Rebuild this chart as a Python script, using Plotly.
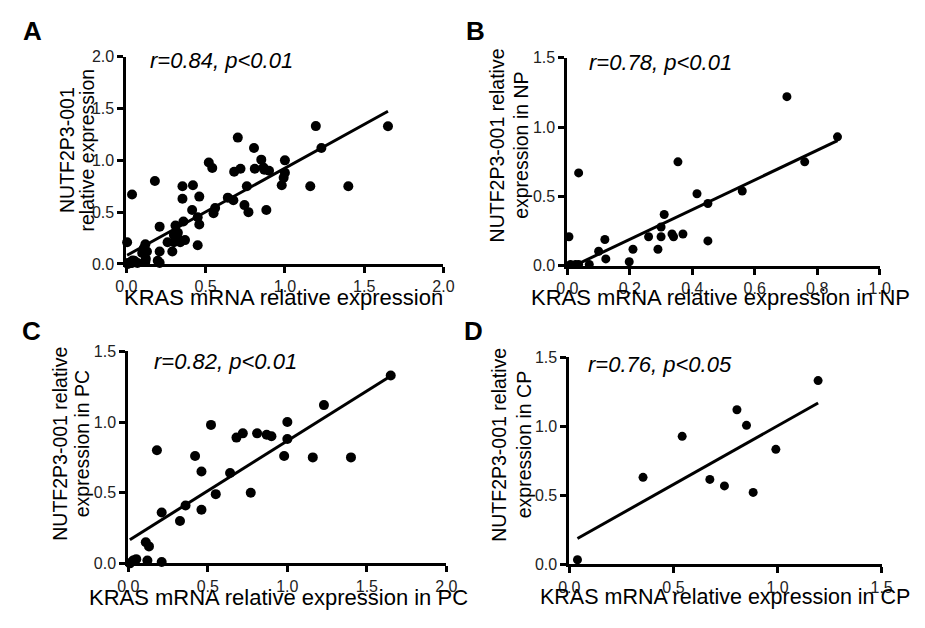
import plotly.graph_objects as go

# ---------------- data ----------------
# Panel B (NP)
np_x = [0.005, 0.01, 0.026, 0.036, 0.036, 0.07, 0.10, 0.12, 0.123, 0.198, 0.21, 0.26, 0.29, 0.30,
        0.30, 0.31, 0.335, 0.34, 0.354, 0.37, 0.415, 0.45, 0.45, 0.56, 0.703, 0.76, 0.865]
np_y = [0.21, 0.01, 0.01, 0.67, 0.01, 0.01, 0.105, 0.19, 0.05, 0.03, 0.12, 0.21, 0.12, 0.21,
        0.28, 0.37, 0.23, 0.21, 0.75, 0.23, 0.52, 0.45, 0.18, 0.54, 1.22, 0.75, 0.93]
# Panel C (PC)
pc_x = [0.01, 0.03, 0.05, 0.11, 0.13, 0.12, 0.18, 0.21, 0.21, 0.325, 0.36, 0.42, 0.46, 0.46, 0.52,
        0.55, 0.64, 0.68, 0.72, 0.77, 0.81, 0.87, 0.90, 0.98, 1.0, 1.0, 1.16, 1.23, 1.40, 1.65]
pc_y = [0.0, 0.02, 0.03, 0.15, 0.12, 0.02, 0.80, 0.36, 0.01, 0.30, 0.41, 0.76, 0.65, 0.38, 0.98,
        0.49, 0.64, 0.89, 0.92, 0.50, 0.92, 0.91, 0.90, 0.76, 1.0, 0.88, 0.75, 1.12, 0.75, 1.33]
# Panel D (CP)
cp_x = [0.039, 0.354, 0.542, 0.675, 0.745, 0.805, 0.851, 0.883, 0.992, 1.195]
cp_y = [0.033, 0.63, 0.927, 0.615, 0.568, 1.12, 1.007, 0.521, 0.833, 1.331]
# Panel A (all samples)
all_x = np_x + pc_x + cp_x
all_y = np_y + pc_y + cp_y

# regression lines: (intercept, slope)
fit_all = (0.08, 0.845)
fit_np = (-0.0225, 1.07)
fit_pc = (0.16, 0.707)
fit_cp = (0.154, 0.849)

stats = ["r=0.84, p<0.01", "r=0.78, p<0.01", "r=0.82, p<0.01", "r=0.76, p<0.05"]
letters = ["A", "B", "C", "D"]
x_titles = ["KRAS mRNA relative expression", "KRAS mRNA relative expression in NP",
            "KRAS mRNA relative expression in PC", "KRAS mRNA relative expression in CP"]
y_titles = [["NUTF2P3-001", "relative expression"],
            ["NUTF2P3-001 relative", "expression in NP"],
            ["NUTF2P3-001 relative", "expression in PC"],
            ["NUTF2P3-001 relative", "expression in CP"]]

# The page body keeps the browser's default 8px margin, so the figure is sized
# to fill the 925x628 window exactly inside it; positions below are window pixels.
OFF = 8
W, H = 925 - 2 * OFF, 628 - 2 * OFF
FONT = "Liberation Sans, Arial, Helvetica, sans-serif"

panels = [
    dict(x=all_x, y=all_y, fit=fit_all, xr=[0, 2], yr=[0, 2], xd=0.5, yd=0.5, ms=10,
         px=(118, 443), py=(50, 263), stat_xy=(216, 54), let_xy=(22, 23),
         xt_xy=(279, 298), xt_size=22, yt_x=(57, 78), yt_y=146),
    dict(x=np_x, y=np_y, fit=fit_np, xr=[0, 1], yr=[0, 1.5], xd=0.2, yd=0.5, ms=9,
         px=(570, 890), py=(51, 265), stat_xy=(665, 56), let_xy=(476, 23),
         xt_xy=(727, 298), xt_size=22, yt_x=(498, 523), yt_y=141),
    dict(x=pc_x, y=pc_y, fit=fit_pc, xr=[0, 2], yr=[0, 1.5], xd=0.5, yd=0.5, ms=10,
         px=(120, 446), py=(353, 571), stat_xy=(220, 363), let_xy=(21, 332),
         xt_xy=(274, 606), xt_size=22, yt_x=(50, 72), yt_y=448),
    dict(x=cp_x, y=cp_y, fit=fit_cp, xr=[0, 1.5], yr=[0, 1.5], xd=0.5, yd=0.5, ms=9,
         px=(572, 892), py=(359, 572), stat_xy=(665, 366), let_xy=(474, 332),
         xt_xy=(731, 606), xt_size=21.5, yt_x=(500, 525), yt_y=449),
]


def px2paper_x(xp):
    return (xp - OFF) / W


def px2paper_y(yp):
    return 1 - (yp - OFF) / H


fig = go.Figure()
annotations = []
for i, p in enumerate(panels):
    k = "" if i == 0 else str(i + 1)
    xa, ya = "x" + k, "y" + k
    b, m = p["fit"]
    lx = [min(p["x"]), max(p["x"])]
    ly = [b + m * v for v in lx]
    fig.add_trace(go.Scatter(x=lx, y=ly, mode="lines", xaxis=xa, yaxis=ya,
                             line=dict(color="black", width=3), showlegend=False,
                             hoverinfo="skip"))
    fig.add_trace(go.Scatter(x=p["x"], y=p["y"], mode="markers", xaxis=xa, yaxis=ya,
                             marker=dict(color="black", size=p["ms"]), cliponaxis=False,
                             showlegend=False))
    axis_common = dict(showline=True, linecolor="black", linewidth=3, ticks="outside",
                       ticklen=6, tickwidth=3, tickcolor="black", showgrid=False,
                       zeroline=False, tickformat=".1f",
                       tickfont=dict(family=FONT, size=16, color="#222"))
    fig.layout["xaxis" + k] = dict(axis_common, range=p["xr"], dtick=p["xd"], tick0=0,
                                   domain=[px2paper_x(p["px"][0]), px2paper_x(p["px"][1])],
                                   anchor=ya)
    fig.layout["yaxis" + k] = dict(axis_common, range=p["yr"], dtick=p["yd"], tick0=0,
                                   domain=[px2paper_y(p["py"][1]), px2paper_y(p["py"][0])],
                                   anchor=xa)
    annotations.append(dict(text="<i>" + stats[i] + "</i>",
                            x=px2paper_x(p["stat_xy"][0]), y=px2paper_y(p["stat_xy"][1]),
                            xref="paper", yref="paper", showarrow=False,
                            font=dict(family=FONT, size=22, color="black"),
                            xanchor="center", yanchor="middle"))
    annotations.append(dict(text="<b>" + letters[i] + "</b>",
                            x=px2paper_x(p["let_xy"][0]), y=px2paper_y(p["let_xy"][1]),
                            xref="paper", yref="paper", showarrow=False,
                            font=dict(family=FONT, size=26, color="black"),
                            xanchor="center", yanchor="middle"))
    annotations.append(dict(text=x_titles[i],
                            x=px2paper_x(p["xt_xy"][0]), y=px2paper_y(p["xt_xy"][1]),
                            xref="paper", yref="paper", showarrow=False,
                            font=dict(family=FONT, size=p["xt_size"], color="black"),
                            xanchor="center", yanchor="middle"))
    for j, line in enumerate(y_titles[i]):
        annotations.append(dict(text=line, x=px2paper_x(p["yt_x"][j]),
                                y=px2paper_y(p["yt_y"]), xref="paper", yref="paper",
                                showarrow=False, textangle=-90,
                                font=dict(family=FONT, size=19.5, color="black"),
                                xanchor="center", yanchor="middle"))

fig.update_layout(width=W, height=H, margin=dict(l=0, r=0, t=0, b=0),
                  paper_bgcolor="white", plot_bgcolor="white",
                  annotations=annotations, font=dict(family=FONT))
fig.write_html("out.html", config={"displayModeBar": False})
